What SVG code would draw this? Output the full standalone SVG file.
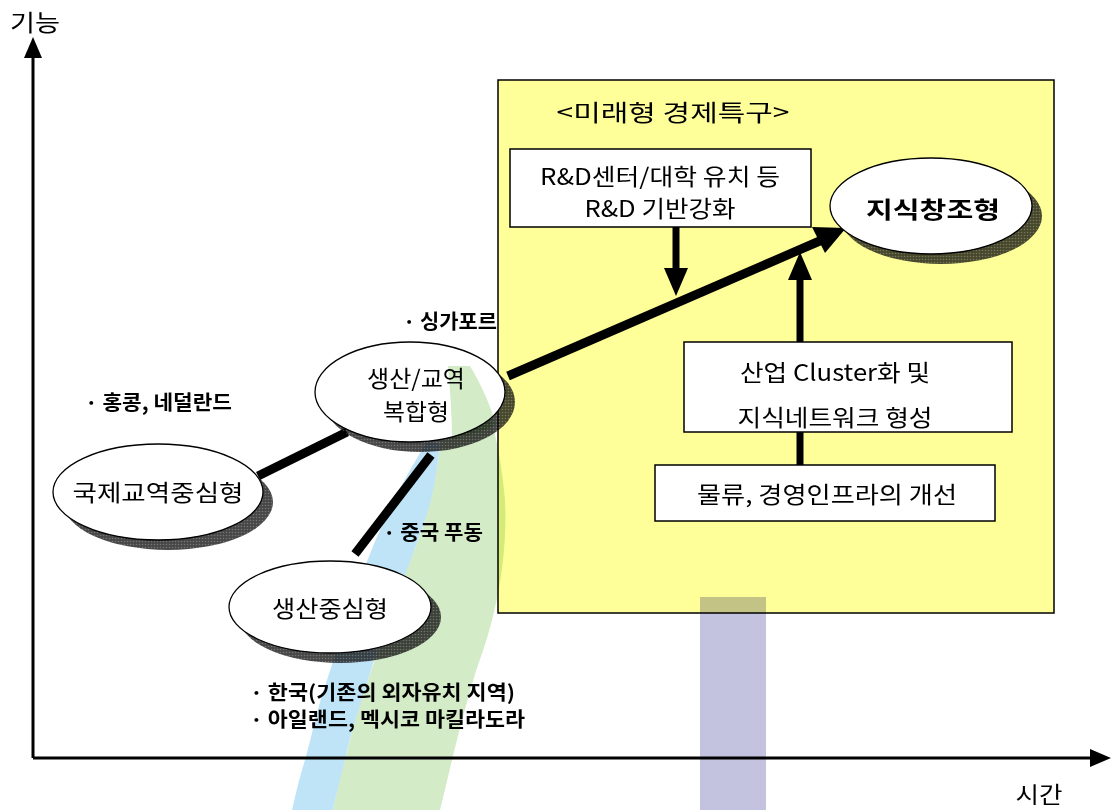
<svg xmlns="http://www.w3.org/2000/svg" width="1113" height="810" viewBox="0 0 1113 810">
<style>
.t{font-family:"Noto Sans CJK KR","Liberation Sans",sans-serif;font-size:23px;fill:#000;text-anchor:middle}
.b{font-family:"Noto Sans CJK KR","Liberation Sans",sans-serif;font-size:20px;font-weight:bold;fill:#000}
.box{fill:#fff;stroke:#000;stroke-width:1.5}
.ell{fill:#fff;stroke:#000;stroke-width:1.3}
.sh{fill:url(#dots)}
.thick{stroke:#000;stroke-width:9;fill:none}
.mid{stroke:#000;stroke-width:7;fill:none}
.ax{stroke:#000;stroke-width:3;fill:none}
</style>
<defs>
<pattern id="dots" width="3" height="3" patternUnits="userSpaceOnUse">
<rect width="3" height="3" fill="#000" fill-opacity="0.72"/>
<circle cx="1.5" cy="1.5" r="0.8" fill="#fff" fill-opacity="0.25"/>
</pattern>
</defs>
<rect width="1113" height="810" fill="#fff"/>
<g id="region">
<rect x="498" y="80" width="556" height="533" fill="#ffff99" stroke="#000" stroke-width="1.5"/>
<text class="t" x="673" y="121" font-size="27" textLength="233" lengthAdjust="spacingAndGlyphs">&lt;미래형 경제특구&gt;</text>
</g>
<g id="watermark" style="mix-blend-mode:multiply">
<path d="M448,365 L470,365 C485,390 500,440 505,500 C508,560 495,620 478,665 C465,705 452,760 440,810 L333,810 C337,790 340,775 345,760 C352,730 360,700 368,680 C378,650 388,620 395,600 C405,570 418,545 425,520 C432,495 438,470 440,445 C443,420 446,390 448,365 Z" fill="#d4ebc8"/>
<path d="M428,440 L440,445 C437,475 432,500 425,520 C415,550 405,575 395,600 C385,625 377,650 368,680 C360,705 350,735 345,760 C340,780 336,795 333,810 L292,810 C296,792 300,776 305,760 C312,735 318,705 327,680 C336,652 345,625 352,600 C362,575 370,552 380,530 C392,505 400,488 410,470 C417,458 423,448 428,440 Z" fill="#bfe4f7"/>
<rect x="700" y="597" width="66" height="213" fill="#c3c3df"/>
</g>
<g id="axes">
<line class="ax" x1="33" y1="758" x2="33" y2="55"/>
<polygon points="33,37 24,58 42,58" fill="#000"/>
<line class="ax" x1="33" y1="758" x2="1092" y2="758"/>
<polygon points="1111,758 1090,749 1090,767" fill="#000"/>
<text class="t" x="35" y="31" font-size="27" textLength="50" lengthAdjust="spacingAndGlyphs">기능</text>
<text class="t" x="1039" y="803" font-size="27" textLength="47" lengthAdjust="spacingAndGlyphs">시간</text>
</g>
<g id="connectors">
<line class="thick" x1="258" y1="476" x2="347" y2="432"/>
<line class="thick" x1="431" y1="455" x2="355" y2="554"/>
<line class="thick" x1="508" y1="376" x2="822" y2="240"/>
<polygon points="846,228 812,227 825,253" fill="#000"/>
<line class="mid" x1="676" y1="227" x2="676" y2="270"/>
<polygon points="676,296 664,268 688,268" fill="#000"/>
<line class="mid" x1="800" y1="342" x2="800" y2="276"/>
<polygon points="800,252 788,280 812,280" fill="#000"/>
<line class="mid" x1="800" y1="432" x2="800" y2="466"/>
</g>
<g id="node-intl">
<ellipse class="sh" cx="168" cy="502" rx="105" ry="48"/>
<ellipse class="ell" cx="158" cy="492" rx="105" ry="48"/>
<text class="t" x="158" y="501" textLength="171" lengthAdjust="spacingAndGlyphs">국제교역중심형</text>
</g>
<g id="node-mixed">
<ellipse class="sh" cx="420" cy="402" rx="95" ry="50"/>
<ellipse class="ell" cx="410" cy="392" rx="95" ry="50"/>
<path d="M448,366 L470,366 C482,385 492,410 496,425 C480,432 465,437 452,440 C452,415 450,390 448,366 Z" fill="#d4ebc8" style="mix-blend-mode:multiply"/>
<text class="t" x="416" y="387" textLength="98" lengthAdjust="spacingAndGlyphs">생산/교역</text>
<text class="t" x="416" y="420" textLength="66" lengthAdjust="spacingAndGlyphs">복합형</text>
</g>
<g id="node-prod">
<ellipse class="sh" cx="340" cy="617" rx="101" ry="46"/>
<ellipse class="ell" cx="330" cy="607" rx="101" ry="46"/>
<text class="t" x="330" y="617" textLength="116" lengthAdjust="spacingAndGlyphs">생산중심형</text>
</g>
<g id="node-knowledge">
<ellipse class="sh" cx="941" cy="216" rx="101" ry="48"/>
<ellipse class="ell" cx="931" cy="206" rx="101" ry="48"/>
<text class="t" x="933" y="218" font-size="30" font-weight="bold" textLength="134" lengthAdjust="spacingAndGlyphs">지식창조형</text>
</g>
<g id="node-rd">
<rect class="box" x="510" y="149" width="301" height="78"/>
<text class="t" x="660" y="185" textLength="240" lengthAdjust="spacingAndGlyphs">R&amp;D센터/대학 유치 등</text>
<text class="t" x="660" y="217" textLength="151" lengthAdjust="spacingAndGlyphs">R&amp;D 기반강화</text>
</g>
<g id="node-cluster">
<rect class="box" x="684" y="342" width="328" height="90"/>
<text class="t" x="835" y="381" textLength="190" lengthAdjust="spacingAndGlyphs">산업 Cluster화 및</text>
<text class="t" x="835" y="426" textLength="195" lengthAdjust="spacingAndGlyphs">지식네트워크 형성</text>
</g>
<g id="node-infra">
<rect class="box" x="655" y="465" width="340" height="56"/>
<text class="t" x="827" y="503" textLength="260" lengthAdjust="spacingAndGlyphs">물류, 경영인프라의 개선</text>
</g>
<g id="labels">
<text class="b" x="403" y="329" textLength="94" lengthAdjust="spacingAndGlyphs">· 싱가포르</text>
<text class="b" x="85" y="410" textLength="147" lengthAdjust="spacingAndGlyphs">· 홍콩, 네덜란드</text>
<text class="b" x="383" y="540" textLength="100" lengthAdjust="spacingAndGlyphs">· 중국 푸동</text>
<text class="b" x="250" y="700" textLength="265" lengthAdjust="spacingAndGlyphs">· 한국(기존의 외자유치 지역)</text>
<text class="b" x="250" y="727" textLength="275" lengthAdjust="spacingAndGlyphs">· 아일랜드, 멕시코 마킬라도라</text>
</g>
</svg>
